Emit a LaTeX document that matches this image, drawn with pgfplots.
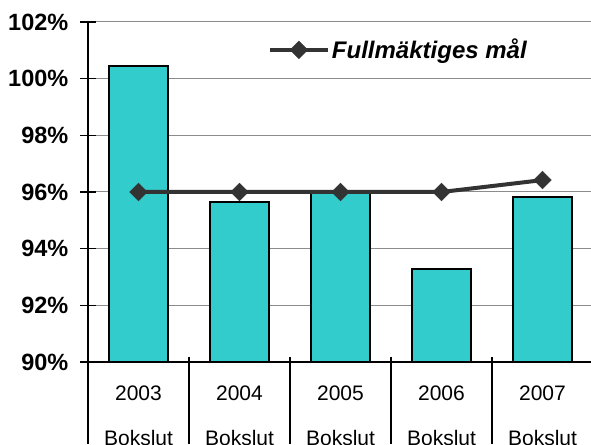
\documentclass[border=0pt]{standalone}
\usepackage{pgfplots}
\pgfplotsset{compat=1.18}
\usepackage{fontspec}
\setmainfont{Liberation Sans}
\definecolor{barc}{HTML}{33CCCC}
\definecolor{linec}{HTML}{333333}
\begin{document}
\begin{tikzpicture}[x=1pt,y=1pt]
\path[use as bounding box] (0,0) rectangle (591,444);
\begin{axis}[
  at={(88pt,82pt)}, anchor=south west,
  scale only axis, width=505pt, height=340pt,
  xmin=-0.5, xmax=4.5, ymin=90, ymax=102,
  axis x line=bottom, axis y line=left,
  axis line style={-, line width=1.2pt, black},
  ytick={90,92,94,96,98,100,102},
  yticklabels={90\%,92\%,94\%,96\%,98\%,100\%,102\%},
  yticklabel style={font=\fontsize{23.5}{26}\selectfont\bfseries, inner sep=0pt, xshift=-12pt},
  tick align=center, major tick length=15pt,
  ytick style={line width=1.2pt, black},
  xtick={0,1,2,3,4},
  xticklabels={{2003\\Bokslut},{2004\\Bokslut},{2005\\Bokslut},{2006\\Bokslut},{2007\\Bokslut}},
  xticklabel style={font=\fontsize{21}{45}\selectfont, align=center, anchor=north, inner sep=0pt, yshift=-16pt},
  xtick style={draw=none},
  ymajorgrids, grid style={black!45, line width=1pt},
  legend style={at={(axis description cs:0.356,0.918)}, anchor=west, draw=none, fill=none, inner sep=0pt,
    font=\fontsize{24}{28}\selectfont\bfseries\itshape},
  legend image code/.code={\draw[#1] (0pt,0pt) -- (58pt,0pt); \draw[#1, only marks] plot coordinates {(29pt,0pt)};},
]
\addplot[ybar, bar width=0.59, fill=barc, draw=black, line width=2.2pt, forget plot]
  coordinates {(0,100.45) (1,95.65) (2,95.98) (3,93.27) (4,95.82)};
\addplot[linec, line width=4pt, mark=square*, mark size=6.2pt,
  mark options={rotate=45, solid, fill=linec, draw=linec, line width=0.5pt}]
  coordinates {(0,96) (1,96) (2,96) (3,96) (4,96.42)};
\addlegendentry{Fullmäktiges mål}
\end{axis}
\draw[black, line width=1.2pt] (88,82) -- (88,0);
\foreach \xx in {189,290,391,492} { \draw[black, line width=1.2pt] (\xx,87) -- (\xx,0); }
\end{tikzpicture}
\end{document}
